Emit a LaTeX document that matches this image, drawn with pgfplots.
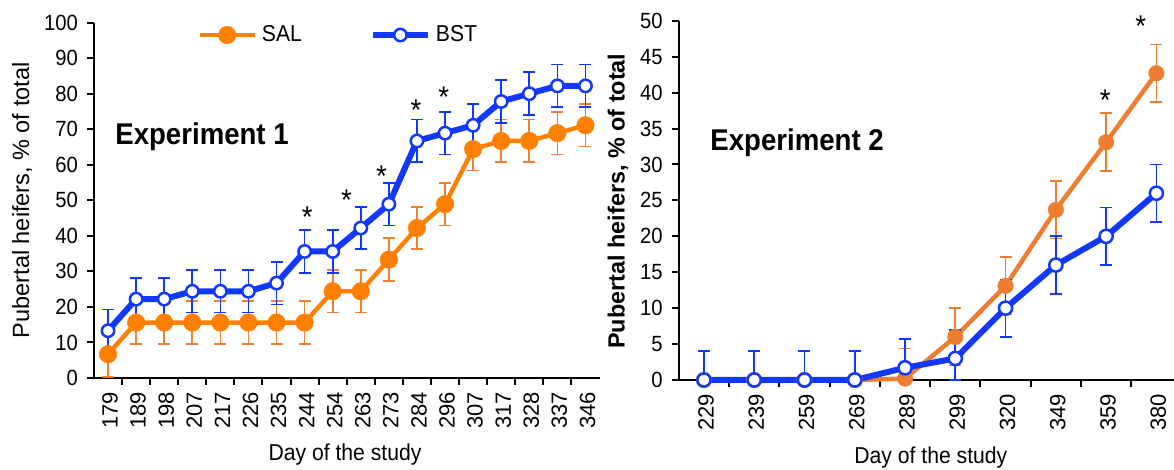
\documentclass[border=0pt]{standalone}
\usepackage{pgfplots}
\usepackage{pgfplotstable}
\pgfplotsset{compat=1.18}
\usepackage{fontspec}
\setmainfont{Liberation Sans}[FakeStretch=0.92]
\newfontfamily\rotfont{Liberation Sans}
\definecolor{orL}{HTML}{FF8000}
\definecolor{orLe}{HTML}{F0802F}
\definecolor{orR}{HTML}{ED7D31}
\definecolor{bl}{HTML}{1038FF}

\pgfplotstableread{
i y ep em
0 6.7 6 6.4
1 15.6 6 6
2 15.6 6 6
3 15.6 6 6
4 15.6 6 6
5 15.6 6 6
6 15.6 6 6
7 15.6 6 6
8 24.4 6 6
9 24.4 6 6
10 33.3 6 6
11 42.2 6 6
12 48.9 6 6
13 64.4 6 6
14 66.7 6 6
15 66.7 6 6
16 68.9 6 6
17 71.1 6 6
}\salA

\pgfplotstableread{
i y ep em
0 13.3 6 6
1 22.2 6 6
2 22.2 6 6
3 24.4 6 6
4 24.4 6 6
5 24.4 6 6
6 26.7 6 6
7 35.6 6 6
8 35.6 6 6
9 42.2 6 6
10 48.9 6 6
11 66.7 6 6
12 68.9 6 6
13 71.1 6 6
14 77.8 6 6
15 80.0 6 6
16 82.2 6 6
17 82.2 6 6
}\bstA

\pgfplotstableread{
i y ep em
0 0 0 0
1 0 0 0
2 0 0 0
3 0 0 0
4 0.2 4.2 0.2
5 6.0 4 4
6 13.1 4 4
7 23.7 4 4
8 33.1 4.1 4
9 42.7 4 4
}\salB

\pgfplotstableread{
i y ep em
0 0 4 0
1 0 4 0
2 0 4 0
3 0 4 0
4 1.7 4 1.7
5 3.0 4 3
6 10.0 4 4
7 16.0 4 4
8 20.0 4 4
9 26.0 4 4
}\bstB

\tikzset{ast/.style={anchor=base, font=\fontsize{15}{16}\selectfont, yshift=-8.9pt, inner sep=0pt}}
\pgfplotsset{
  common/.style={
    scale only axis, anchor=south west, clip=false,
    axis x line*=bottom, axis y line*=left,
    axis line style={line width=1pt, -, black},
    tick align=outside,
    major tick length=3.5pt, minor tick length=3.5pt,
    minor x tick num=1,
    major x tick style={draw=none},
    minor x tick style={black, line width=1pt},
    ytick style={black, line width=1pt},
    /pgf/number format/assume math mode=true,
    yticklabel style={font=\fontsize{11}{13}\selectfont, xshift=-1pt},
    xticklabel style={font=\rotfont\fontsize{11}{13}\selectfont, rotate=90, anchor=east, yshift=-1pt},
    xlabel style={font=\fontsize{11.5}{13}\selectfont},
    legend image code/.code={\draw[mark repeat=2,mark phase=2,##1] plot coordinates {(0pt,0pt) (13.75pt,0pt) (27.5pt,0pt)};},
  },
}

\begin{document}
\begin{tikzpicture}
\useasboundingbox (0,0) rectangle (587pt,235pt);
\begin{axis}[common,
  at={(47pt,46pt)}, width=252.75pt, height=177.7pt,
  xmin=-0.5, xmax=17.5, ymin=0, ymax=100,
  ytick={0,10,...,100},
  xtick={0,...,17},
  xticklabels={179,189,198,207,217,226,235,244,254,263,273,284,296,307,317,328,337,346},
  xlabel={Day of the study},
  xlabel style={at={(axis description cs:0.4966,-0.2167)}, anchor=center},
  ylabel={\rotfont Pubertal heifers, \% of total},
  ylabel style={at={(axis description cs:-0.1424,0.5)}, anchor=center, rotate=0, font=\fontsize{11.75}{13}\selectfont},
  legend columns=2,
  legend style={at={(axis description cs:0.204,0.965)}, anchor=west, draw=none, fill=none, inner sep=0pt,
    font=\fontsize{11.5}{13}\selectfont,
    /tikz/every odd column/.append style={column sep=0.5pt},
    /tikz/every even column/.append style={column sep=32pt}},
]
\addplot[orL, line width=2.2pt, mark=*, mark size=4.4pt, mark options={fill=orL, draw=orL, line width=0.2pt},
  error bars/.cd, y dir=both, y explicit,
  error bar style={line width=0.85pt, orLe},
  error mark options={rotate=90, mark size=3pt, line width=0.85pt, orLe}]
  table[x=i, y=y, y error plus=ep, y error minus=em] {\salA};
\addplot[bl, line width=3pt, mark=*, mark size=3.1pt, mark options={fill=white, draw=bl, line width=1.25pt},
  error bars/.cd, y dir=both, y explicit,
  error bar style={line width=0.85pt, bl},
  error mark options={rotate=90, mark size=3pt, line width=0.85pt, bl}]
  table[x=i, y=y, y error plus=ep, y error minus=em] {\bstA};
\legend{SAL, BST}
\node[anchor=west, inner sep=0pt, font=\bfseries\fontsize{15}{17}\selectfont] at (axis description cs:0.0415,0.678) {Experiment 1};
\node[ast] at (axis cs:7.09,47.3) {*};
\node[ast] at (axis cs:8.49,52.2) {*};
\node[ast] at (axis cs:9.74,58.8) {*};
\node[ast] at (axis cs:10.97,77.6) {*};
\node[ast] at (axis cs:11.95,81.0) {*};
\end{axis}

\begin{axis}[common,
  at={(339.4pt,45pt)}, width=247.6pt, height=179.6pt,
  xmin=-0.5, xmax=9.35, ymin=0, ymax=50,
  ytick={0,5,...,50},
  xtick={0,...,9},
  xticklabels={229,239,259,269,289,299,320,349,359,380},
  xlabel={Day of the study},
  xlabel style={at={(axis description cs:0.509,-0.217)}, anchor=center},
  ylabel={\rotfont\bfseries Pubertal heifers, \% of total},
  ylabel style={at={(axis description cs:-0.1227,0.498)}, anchor=center, rotate=0, font=\fontsize{11.7}{13}\selectfont},
]
\addplot[orR, line width=2.25pt, mark=*, mark size=3.9pt, mark options={fill=orR, draw=orR, line width=0.2pt},
  error bars/.cd, y dir=both, y explicit,
  error bar style={line width=0.85pt, orR},
  error mark options={rotate=90, mark size=3pt, line width=0.85pt, orR}]
  table[x=i, y=y, y error plus=ep, y error minus=em] {\salB};
\addplot[bl, line width=3pt, mark=*, mark size=3.3pt, mark options={fill=white, draw=bl, line width=1.25pt},
  error bars/.cd, y dir=both, y explicit,
  error bar style={line width=0.85pt, bl},
  error mark options={rotate=90, mark size=3pt, line width=0.85pt, bl}]
  table[x=i, y=y, y error plus=ep, y error minus=em] {\bstB};
\node[anchor=west, inner sep=0pt, font=\bfseries\fontsize{15}{17}\selectfont] at (axis description cs:0.063,0.66) {Experiment 2};
\node[ast] at (axis cs:7.98,40.0) {*};
\node[ast] at (axis cs:8.69,50.3) {*};
\end{axis}
\end{tikzpicture}
\end{document}
